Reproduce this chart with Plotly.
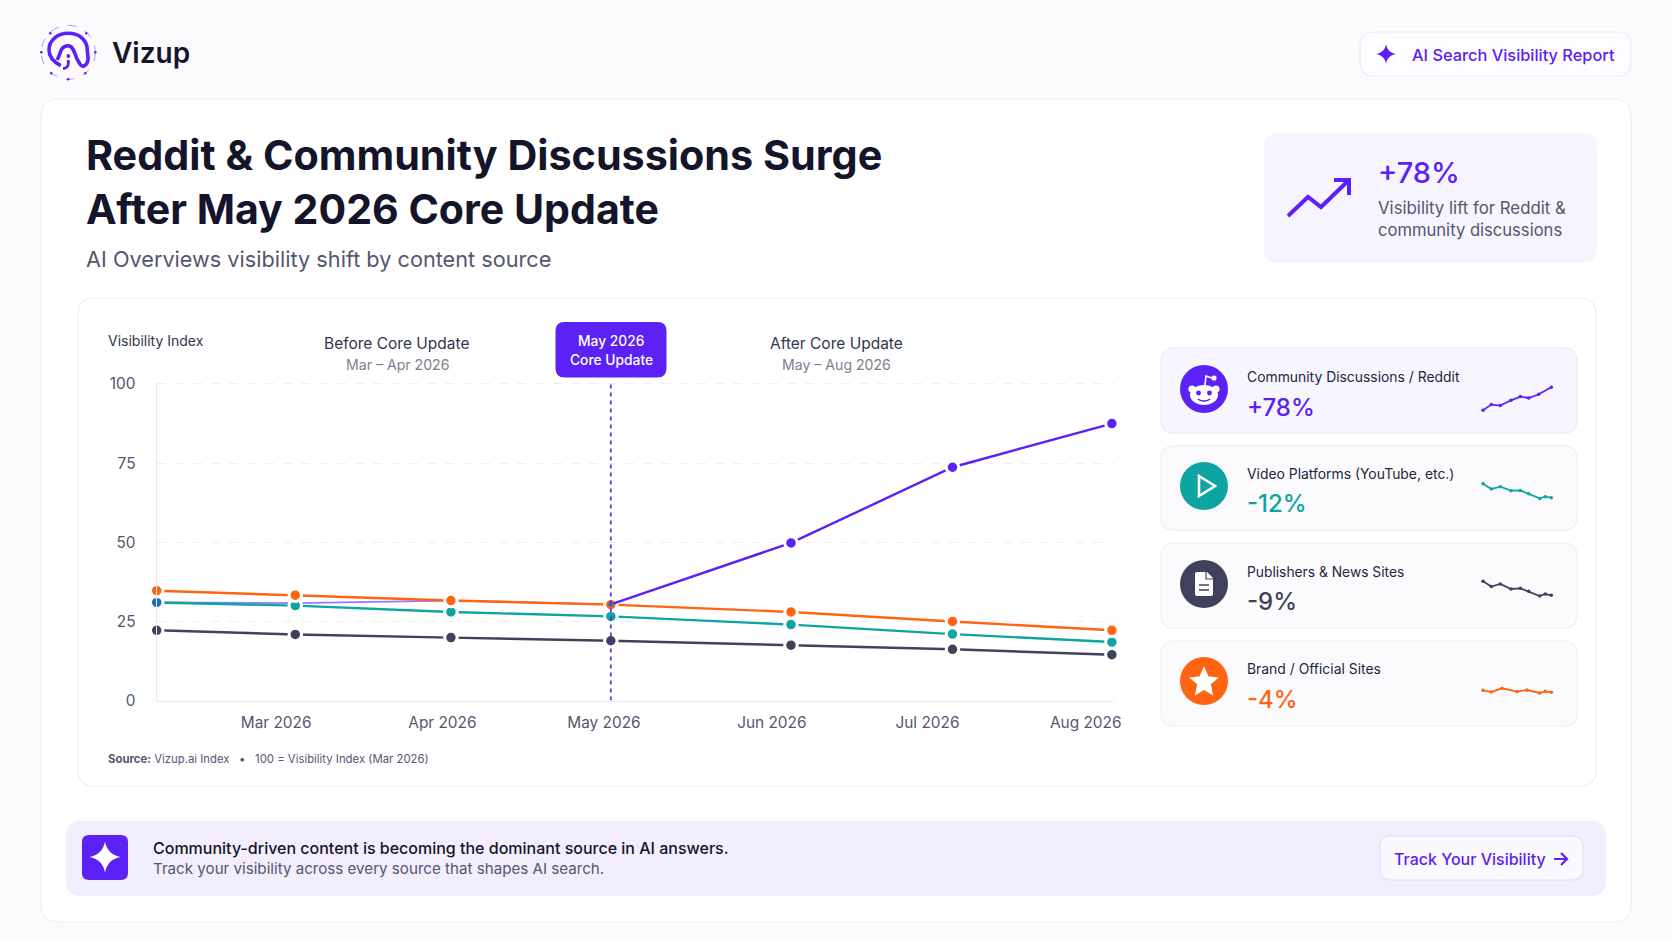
import re
import plotly.graph_objects as go

W, H = 1672, 941
FONT = "Inter"

# Chart data: days since 1 March at each sample, and the Visibility Index per source
sample_days = [0, 26, 55.2, 85.2, 119, 149.3, 179.2]
tick_days = [22.4, 53.6, 83.9, 115.4, 144.6, 174.3]
tick_labels = ["Mar 2026", "Apr 2026", "May 2026", "Jun 2026", "Jul 2026", "Aug 2026"]
update_day = 85.2

community = [31.0, 30.8, 31.6, 30.4, 49.8, 73.7, 87.5]
video = [31.0, 30.0, 28.0, 26.6, 24.0, 21.0, 18.5]
publishers = [22.2, 20.9, 19.9, 18.9, 17.5, 16.2, 14.5]
brand = [34.7, 33.3, 31.6, 30.3, 28.0, 25.0, 22.2]

# Small trend lines on the source cards
spark_x_reddit = [0, 8.3, 17.3, 28, 37.3, 45.7, 55.7, 68.3]
spark_reddit = [0, 5.7, 4.7, 10, 13.7, 12.3, 16, 23]
spark_x_video = [0, 8.3, 17.3, 28, 37.3, 45.7, 56.7, 62.3, 68.3]
spark_video = [0, -5.3, -3, -7, -6.7, -10, -14.7, -13, -14]
spark_publishers = [0, -5.3, -2.7, -7.7, -7, -10, -14.7, -12.7, -14]
spark_x_brand = [0, 8.3, 19, 34, 44, 56.7, 62.3, 68.3]
spark_brand = [0, -1.7, 2, -1.3, 0.3, -2.7, -1, -2]

PURPLE = "#5b21f5"
TEAL = "#0ea5a0"
SLATE = "#3f425a"
ORANGE = "#ff6412"
INK = "#14152b"
MUTED = "#55566f"
SOFT = "#7d7e91"


def px(x):
    return x / W


def py(y):
    return 1 - y / H


def to_paper(path):
    """Turn an SVG path written in page pixels into paper fractions."""
    tokens = re.findall(r"[MLCQZ]|-?\d+\.?\d*", path)
    out, is_x = [], True
    for t in tokens:
        if t in "MLCQZ":
            out.append(t)
            is_x = True
        else:
            out.append(f"{px(float(t)):.5f}" if is_x else f"{py(float(t)):.5f}")
            is_x = not is_x
    return " ".join(out)


shapes = []


def path(d, fill=None, line=None, width=0, dash=None):
    shapes.append(dict(
        type="path", xref="paper", yref="paper", path=to_paper(d), layer="below",
        fillcolor=fill or "rgba(0,0,0,0)",
        line=dict(color=line or "rgba(0,0,0,0)", width=width, dash=dash or "solid"),
    ))


def rrect(x0, y0, x1, y1, r, fill=None, line=None, width=1):
    path(
        f"M {x0+r} {y0} L {x1-r} {y0} Q {x1} {y0} {x1} {y0+r} L {x1} {y1-r} Q {x1} {y1} {x1-r} {y1} "
        f"L {x0+r} {y1} Q {x0} {y1} {x0} {y1-r} L {x0} {y0+r} Q {x0} {y0} {x0+r} {y0} Z",
        fill, line, width,
    )


def ellipse(cx, cy, rx, ry, fill=None, line=None, width=0, dash=None):
    shapes.append(dict(
        type="circle", xref="paper", yref="paper", layer="below",
        x0=px(cx - rx), x1=px(cx + rx), y0=py(cy + ry), y1=py(cy - ry),
        fillcolor=fill or "rgba(0,0,0,0)",
        line=dict(color=line or "rgba(0,0,0,0)", width=width, dash=dash or "solid"),
    ))


def sparkle(cx, cy, r, fill):
    k = r * 0.16
    path(
        f"M {cx} {cy-r} Q {cx+k} {cy-k} {cx+r} {cy} Q {cx+k} {cy+k} {cx} {cy+r} "
        f"Q {cx-k} {cy+k} {cx-r} {cy} Q {cx-k} {cy-k} {cx} {cy-r} Z",
        fill,
    )


annotations = []


def text(x, y, s, size, color, anchor="left", weight=400, font=FONT):
    annotations.append(dict(
        x=px(x), y=py(y), xref="paper", yref="paper", text=s, showarrow=False,
        xanchor=anchor, yanchor="middle", align=anchor, borderpad=0,
        font=dict(family=font, size=size, color=color, weight=weight),
    ))


# Page panels
rrect(41, 99, 1631, 922, 18, "#ffffff", "#eeeef6", 1.2)
rrect(78, 298, 1596, 786, 16, "#ffffff", "#eeeef6", 1.2)
rrect(1360, 32, 1631, 76, 14, "#fdfdff", "#ecebf6", 1.2)
rrect(1264, 133, 1597, 263, 15, "#f6f4fe")
rrect(66, 821, 1606, 896, 15, "#f2eefd")
rrect(1380, 836, 1583, 880, 11, "#faf9ff", "#e4e0f5", 1.2)

# Brand mark: dotted ring, then the arch with its inner fold and stem
ellipse(68.3, 52.3, 27, 27, None, "#b39bfb", 1, "dash")
for dx, dy in [(-18, -19), (18, -19), (-27, 0), (27, 0), (-17, 21), (17, 21), (0, 27)]:
    ellipse(68.3 + dx, 52.3 + dy, 1.3, 1.3, PURPLE)
path(
    "M 60.7 65.7 C 52 61 49 55 49 50 C 49 40 58 33.3 68.3 33.3 C 79 33.3 87.3 40 87.3 50 "
    "C 87.3 54 88.5 57 88 60 C 87 66 82 68 80 64 L 76.7 58.3 C 74 50 72 45.7 68.3 45.7 "
    "C 64 45.7 61 49 60 53.3 C 59 56 58 58 57.3 60",
    None, PURPLE, 3.6,
)
path("M 68.3 60 L 68.3 64 C 68.3 67 65 68.5 63 68.5", None, PURPLE, 2.8)
ellipse(68.3, 56, 1.9, 1.9, PURPLE)
sparkle(1386, 54, 9.5, PURPLE)

# Rising arrow in the headline stat box
path("M 1288 216 L 1308 197 L 1321 207 L 1349 180", None, PURPLE, 4)
path("M 1334 180 L 1349 180 L 1349 195", None, PURPLE, 4)

# Source cards
CARD_ROWS = [(348, 433, "#f7f5fe", "#ede9fb"), (446, 530, "#fbfbfe", "#eeeef6"),
             (543, 628, "#fbfbfe", "#eeeef6"), (641, 726, "#fbfbfe", "#eeeef6")]
for y0, y1, fill, edge in CARD_ROWS:
    rrect(1161, y0, 1577, y1, 13, fill, edge, 1.2)
ellipse(1204, 389, 24, 24, PURPLE)
ellipse(1204, 486, 24, 24, TEAL)
ellipse(1204, 584, 24, 24, SLATE)
ellipse(1204, 681, 24, 24, ORANGE)

# Reddit-style face
ellipse(1204, 395, 14, 10, "#ffffff")
ellipse(1192, 389, 3.6, 3.6, "#ffffff")
ellipse(1216, 389, 3.6, 3.6, "#ffffff")
path("M 1205 385 L 1206 376 L 1212 378", None, "#ffffff", 1.6)
ellipse(1214, 378, 2.6, 2.6, "#ffffff")
ellipse(1198.5, 393, 2.4, 2.4, PURPLE)
ellipse(1209.5, 393, 2.4, 2.4, PURPLE)
path("M 1198 399 Q 1204 403 1210 399", None, PURPLE, 1.5)
# Play outline
path("M 1199 476 L 1215 486 L 1199 496 Z", None, "#ffffff", 2.6)
# Document
path(
    "M 1197 572 L 1207 572 L 1213 578 L 1213 594 Q 1213 596 1211 596 L 1197 596 Q 1195 596 1195 594 "
    "L 1195 574 Q 1195 572 1197 572 Z",
    "#ffffff",
)
path("M 1206 572 L 1206 579 L 1213 579", None, SLATE, 1.2)
path("M 1199 585 L 1209 585 M 1199 590 L 1209 590", None, SLATE, 1.6)
# Star
path(
    "M 1204 668 L 1208 677 L 1217 678 L 1210 684 L 1212 694 L 1204 689 L 1196 694 "
    "L 1198 684 L 1191 678 L 1200 677 Z",
    "#ffffff", "#ffffff", 1.5,
)

# Update badge and call-to-action glyphs
rrect(555.5, 322, 666.5, 377.5, 9, PURPLE)
rrect(82, 835, 128, 880, 7, PURPLE)
sparkle(105, 857, 15.5, "#ffffff")
path("M 1554 859 L 1567 859 M 1561 853 L 1567 859 L 1561 865", None, PURPLE, 2.2)

# Text
text(111, 52.5, "Vizup", 28, INK, weight=600)
text(1411, 54.5, "AI Search Visibility Report", 16.35, PURPLE, weight=500)
text(85, 155, "Reddit &amp; Community Discussions Surge", 41.3, INK, weight=700)
text(85, 209, "After May 2026 Core Update", 41.1, INK, weight=700)
text(85, 259, "AI Overviews visibility shift by content source", 21.7, MUTED)
text(1377, 173, "+78%", 29, PURPLE, weight=500)
text(1377, 208, "Visibility lift for Reddit &amp;", 16.8, MUTED)
text(1377, 230, "community discussions", 16.6, MUTED)

text(107, 341, "Visibility Index", 14, "#33354d")
text(397, 343, "Before Core Update", 15.5, "#33354d", "center")
text(397, 364.5, "Mar – Apr 2026", 14.1, SOFT, "center")
text(836, 343, "After Core Update", 15.5, "#33354d", "center")
text(836, 364.5, "May – Aug 2026", 14.1, SOFT, "center")
text(611, 341, "May 2026", 13.8, "#ffffff", "center", 500)
text(611, 359.5, "Core Update", 13.8, "#ffffff", "center", 500)
text(107, 759, "<b style='font-weight:600'>Source:</b> Vizup.ai Index   •   100 = Visibility Index (Mar 2026)",
     11.35, MUTED)

text(1245.5, 377, "Community Discussions / Reddit", 13.9, "#24263e")
text(1245.5, 407, "+78%", 24, PURPLE, weight=500)
text(1245.5, 474, "Video Platforms (YouTube, etc.)", 13.9, "#24263e")
text(1245.5, 504, "-12%", 24, TEAL, weight=500)
text(1245.5, 572, "Publishers &amp; News Sites", 13.8, "#24263e")
text(1245.5, 601, "-9%", 24, SLATE, weight=500)
text(1245.5, 669, "Brand / Official Sites", 13.9, "#24263e")
text(1245.5, 699, "-4%", 24, ORANGE, weight=500)

text(151.5, 848, "Community-driven content is becoming the dominant source in AI answers.", 16, INK, weight=500)
text(151.5, 868, "Track your visibility across every source that shapes AI search.", 15.15, MUTED)
text(1393, 859, "Track Your Visibility", 16, PURPLE, weight=500)

fig = go.Figure()


def series(x, y, color, marker_colors=None, marker_sizes=None, ring_widths=None, width=2.4, markers=True, name=""):
    fig.add_trace(go.Scatter(
        x=x, y=y, name=name, mode="lines+markers" if markers else "lines",
        line=dict(color=color, width=width), cliponaxis=False, showlegend=False,
        marker=dict(
            size=marker_sizes if marker_sizes is not None else 12.5,
            color=marker_colors if marker_colors is not None else color,
            opacity=1,
            line=dict(color="#ffffff", width=ring_widths if ring_widths is not None else 3),
        ) if markers else None,
    ))


# The community line runs faintly under the others until the update
series(sample_days[:4], community[:4], "#9a78fa", width=1.8, markers=False, name="Community (before)")
series(sample_days, video, TEAL, marker_colors=["#1a6fbe"] + [TEAL] * 6, name="Video Platforms")
series(sample_days, publishers, SLATE, name="Publishers & News Sites")
series(sample_days, brand, ORANGE, name="Brand / Official Sites")
series(sample_days[3:], community[3:], PURPLE, marker_colors=["#6b6a80"] + [PURPLE] * 3,
       marker_sizes=[6, 12.5, 12.5, 12.5], ring_widths=[0, 3, 3, 3], name="Community Discussions / Reddit")

# One axis unit is 3.166 px tall, so the range top of 100.5 lifts the domain by 1.6 px
fig.update_layout(
    width=W, height=H, autosize=False,
    margin=dict(l=0, r=0, t=0, b=0, pad=0),
    paper_bgcolor="#fbfbfd", plot_bgcolor="rgba(0,0,0,0)",
    font=dict(family=FONT, color=MUTED),
    shapes=shapes, annotations=annotations,
    xaxis=dict(
        domain=[px(156.7), px(1114)], range=[0, 179.6], tickmode="array",
        tickvals=tick_days, ticktext=tick_labels, showgrid=False, zeroline=False, automargin=False,
        showline=True, linecolor="#e9e9f2", linewidth=1.2, ticks="",
        ticklabelstandoff=8, tickfont=dict(size=15.4, color=MUTED, family=FONT),
    ),
    yaxis=dict(
        domain=[py(700.6), py(382.4)], range=[0, 100.5], tickvals=[0, 25, 50, 75, 100], automargin=False,
        gridcolor="#eeeef4", griddash="dash", gridwidth=1, zeroline=False,
        showline=True, linecolor="#e9e9f2", linewidth=1.2, ticks="",
        ticklabelstandoff=17, tickfont=dict(size=15.4, color=MUTED, family=FONT),
    ),
)

# Marker for the May update, tied to the chart's own scale
fig.add_shape(type="line", xref="x", yref="y", x0=update_day, x1=update_day, y0=0, y1=100,
              line=dict(color=PURPLE, width=1.6, dash="4px,4px"), layer="above")

# Trend lines, each on its own small axis pair (1 axis unit is about 1 pixel tall)
sparks = [
    (spark_x_reddit, spark_reddit, PURPLE, 410.3),
    (spark_x_video, spark_video, TEAL, 483.7),
    (spark_x_video, spark_publishers, SLATE, 581.3),
    (spark_x_brand, spark_brand, ORANGE, 690.3),
]
for i, (sx, sy, col, start_y) in enumerate(sparks, start=2):
    top, bottom = start_y - 30, start_y + 30
    fig.add_trace(go.Scatter(
        x=sx, y=sy, mode="lines+markers", line=dict(color=col, width=1.8),
        marker=dict(size=3.5, color=col), xaxis=f"x{i}", yaxis=f"y{i}",
        showlegend=False, cliponaxis=False,
    ))
    fig.update_layout({
        f"xaxis{i}": dict(domain=[px(1483), px(1551.3)], range=[0, 68.3], visible=False,
                          anchor=f"y{i}", automargin=False),
        f"yaxis{i}": dict(domain=[py(bottom), py(top)], range=[-30, 30], visible=False,
                          anchor=f"x{i}", automargin=False),
    })

fig.write_html("out.html", config=dict(displayModeBar=False))
